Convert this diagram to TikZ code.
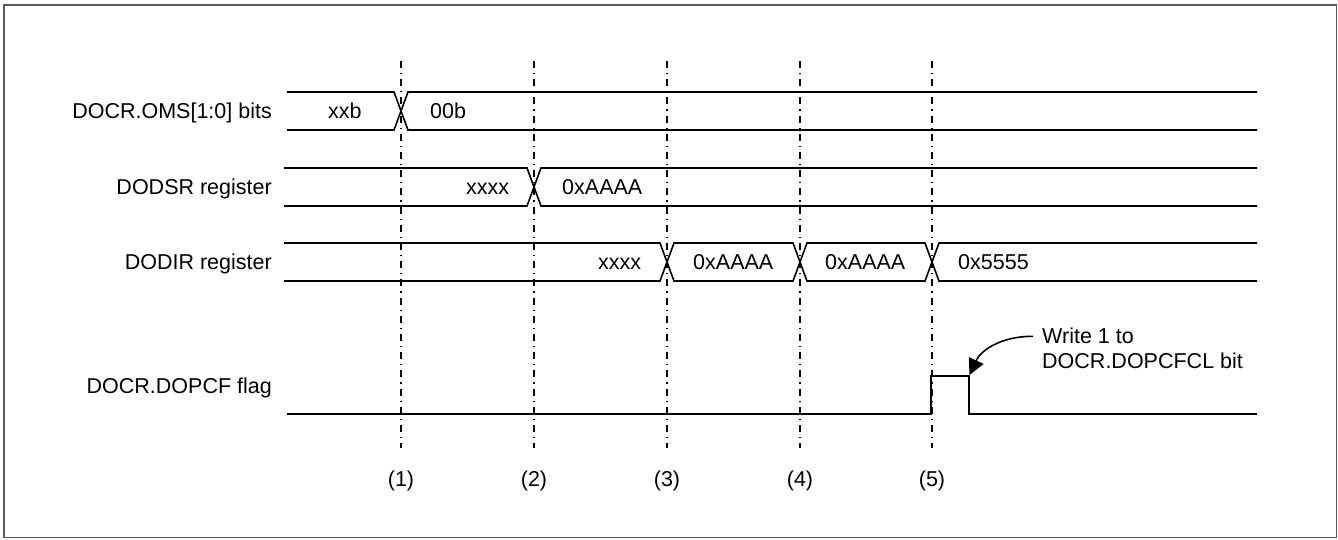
\documentclass[tikz,border=0pt]{standalone}
\usepackage{fontspec}
\setmainfont{Liberation Sans}
\usetikzlibrary{arrows.meta}
\begin{document}
\begin{tikzpicture}[x=1pt,y=-1pt,
  txt/.style={font=\fontsize{21.5}{25}\selectfont, inner sep=0pt},
  lbl/.style={txt, anchor=base east},
  val/.style={txt, anchor=base west},
  num/.style={txt, anchor=base},
  sig/.style={line width=1.6pt, line join=miter},
  flag/.style={line width=2.2pt, line join=miter},
  markline/.style={line width=1.3pt, dash pattern=on 7pt off 5pt on 1.2pt off 5pt},
  frame/.style={draw=black!65, line width=1.6pt},
  callout/.style={line width=1.6pt, -{Triangle[length=16pt,width=16pt]}}]
\useasboundingbox (0,0) rectangle (1338,539);
\draw[frame] (4,5) rectangle (1336.5,537.5);

% vertical timing markers
\foreach \x/\n in {401/1,534/2,667/3,800/4,932/5}{
  \draw[markline] (\x,61) -- (\x,448);
  \node[num] (m\n) at (\x,486) {(\n)};
}

% signal labels
\node[lbl] (l1) at (272,118) {DOCR.OMS[1:0] bits};
\node[lbl] (l2) at (272,194) {DODSR register};
\node[lbl] (l3) at (272,269) {DODIR register};
\node[lbl] (l4) at (272,393) {DOCR.DOPCF flag};

% row 1: DOCR.OMS
\draw[sig] (287,92) -- (394,92) -- (408,130) -- (1257,130);
\draw[sig] (287,130) -- (394,130) -- (408,92) -- (1257,92);
\node[val] (v11) at (328,118) {xxb};
\node[val] (v12) at (430,118) {00b};

% row 2: DODSR
\draw[sig] (284,168) -- (527,168) -- (541,206) -- (1257,206);
\draw[sig] (284,206) -- (527,206) -- (541,168) -- (1257,168);
\node[val] (v21) at (466,194) {xxxx};
\node[val] (v22) at (562,194) {0xAAAA};

% row 3: DODIR
\draw[sig] (284,243) -- (660,243) -- (674,281) -- (793,281) -- (807,243) -- (925,243) -- (939,281) -- (1257,281);
\draw[sig] (284,281) -- (660,281) -- (674,243) -- (793,243) -- (807,281) -- (925,281) -- (939,243) -- (1257,243);
\node[val] (v31) at (598,269) {xxxx};
\node[val] (v32) at (693,269) {0xAAAA};
\node[val] (v33) at (825,269) {0xAAAA};
\node[val] (v34) at (958,269) {0x5555};

% row 4: DOCR.DOPCF flag
\draw[flag] (287,414) -- (931,414) -- (931,376) -- (969,376) -- (969,414) -- (1257,414);
\coordinate (fallTop) at (969.5,375);

% annotation
\node[val] (n1) at (1042,343) {Write 1 to};
\node[val] (n2) at (1042,368) {DOCR.DOPCFCL bit};
\draw[callout] ([xshift=-9pt,yshift=-1pt]n1.west) .. controls (1005,336) and (982,348) .. (fallTop);
\end{tikzpicture}
\end{document}
